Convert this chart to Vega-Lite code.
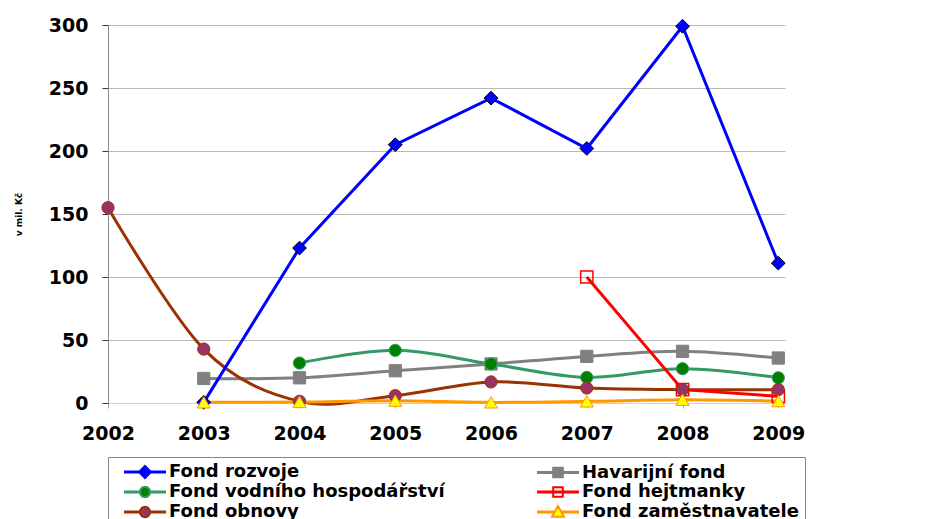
{
  "$schema": "https://vega.github.io/schema/vega-lite/v6.json",
  "width": 677,
  "height": 378,
  "autosize": "none",
  "padding": {"left": 108, "top": 25, "right": 145, "bottom": 116},
  "background": "white",
  "config": {"view": {"stroke": null}, "font": "DejaVu Sans",
    "legend": {"orient": "none", "legendX": 0, "legendY": 432, "columns": 2, "title": null,
      "labelFont": "DejaVu Sans", "labelFontWeight": "bold", "labelFontSize": 18, "labelColor": "#000000",
      "labelLimit": 500, "symbolSize": 256, "symbolStrokeWidth": 2, "symbolOpacity": 1,
      "rowPadding": 0, "columnPadding": 82, "padding": 6, "strokeColor": "#888888", "fillColor": "#ffffff",
      "symbolOffset": 22, "labelOffset": 15, "gridAlign": "each"}},
  "data": {"values": [
    {"year": 2003, "series": "Fond rozvoje", "value": 0.5},
    {"year": 2004, "series": "Fond rozvoje", "value": 123},
    {"year": 2005, "series": "Fond rozvoje", "value": 205},
    {"year": 2006, "series": "Fond rozvoje", "value": 242},
    {"year": 2007, "series": "Fond rozvoje", "value": 202},
    {"year": 2008, "series": "Fond rozvoje", "value": 299},
    {"year": 2009, "series": "Fond rozvoje", "value": 111},
    {"year": 2003, "series": "Havarijní fond", "value": 19.5},
    {"year": 2004, "series": "Havarijní fond", "value": 20},
    {"year": 2005, "series": "Havarijní fond", "value": 25.6},
    {"year": 2006, "series": "Havarijní fond", "value": 31},
    {"year": 2007, "series": "Havarijní fond", "value": 37},
    {"year": 2008, "series": "Havarijní fond", "value": 41},
    {"year": 2009, "series": "Havarijní fond", "value": 35.7},
    {"year": 2004, "series": "Fond vodního hospodářství", "value": 31.7},
    {"year": 2005, "series": "Fond vodního hospodářství", "value": 41.8},
    {"year": 2006, "series": "Fond vodního hospodářství", "value": 31},
    {"year": 2007, "series": "Fond vodního hospodářství", "value": 20.3},
    {"year": 2008, "series": "Fond vodního hospodářství", "value": 27.2},
    {"year": 2009, "series": "Fond vodního hospodářství", "value": 20},
    {"year": 2007, "series": "Fond hejtmanky", "value": 100},
    {"year": 2008, "series": "Fond hejtmanky", "value": 10.6},
    {"year": 2009, "series": "Fond hejtmanky", "value": 5.3},
    {"year": 2002, "series": "Fond obnovy", "value": 155},
    {"year": 2003, "series": "Fond obnovy", "value": 42.8},
    {"year": 2004, "series": "Fond obnovy", "value": 1.3},
    {"year": 2005, "series": "Fond obnovy", "value": 5.8},
    {"year": 2006, "series": "Fond obnovy", "value": 16.7},
    {"year": 2007, "series": "Fond obnovy", "value": 11.9},
    {"year": 2008, "series": "Fond obnovy", "value": 10.6},
    {"year": 2009, "series": "Fond obnovy", "value": 10.6},
    {"year": 2003, "series": "Fond zaměstnavatele", "value": 0.5},
    {"year": 2004, "series": "Fond zaměstnavatele", "value": 0.8},
    {"year": 2005, "series": "Fond zaměstnavatele", "value": 1.8},
    {"year": 2006, "series": "Fond zaměstnavatele", "value": 0.5},
    {"year": 2007, "series": "Fond zaměstnavatele", "value": 1.3},
    {"year": 2008, "series": "Fond zaměstnavatele", "value": 2.6},
    {"year": 2009, "series": "Fond zaměstnavatele", "value": 1.5}
  ]},
  "encoding": {
    "x": {"field": "year", "type": "quantitative",
      "scale": {"domain": [2002, 2009.07], "nice": false, "zero": false},
      "axis": {"title": null, "values": [2002, 2003, 2004, 2005, 2006, 2007, 2008, 2009], "format": "d",
        "grid": false, "domainColor": "#d0d0d0", "tickColor": "#aaaaaa", "tickSize": 5,
        "labelFont": "DejaVu Sans", "labelFontWeight": "bold", "labelFontSize": 19, "labelColor": "#000000",
        "labelPadding": 16, "labelFlush": false}},
    "y": {"field": "value", "type": "quantitative",
      "scale": {"domain": [0, 300], "nice": false},
      "axis": {"title": "v mil. Kč", "values": [0, 50, 100, 150, 200, 250, 300],
        "grid": true, "gridColor": "#b8b8b8", "domainColor": "#888888", "tickColor": "#333333", "tickSize": 6,
        "labelFont": "DejaVu Sans", "labelFontWeight": "bold", "labelFontSize": 19, "labelColor": "#000000",
        "labelPadding": 14, "titleFont": "DejaVu Sans", "titleFontWeight": "bold", "titleFontSize": 9,
        "titleColor": "#000000", "titlePadding": 25}}
  },
  "layer": [
    {
      "transform": [{"filter": {"field": "series", "oneOf": ["Havarijní fond", "Fond vodního hospodářství", "Fond obnovy", "Fond zaměstnavatele"]}}],
      "mark": {"type": "line", "interpolate": "cardinal", "strokeWidth": 3},
      "encoding": {"color": {"field": "series", "type": "nominal",
        "scale": {"domain": ["Fond zaměstnavatele", "Fond obnovy", "Fond hejtmanky", "Fond vodního hospodářství", "Havarijní fond", "Fond rozvoje"],
          "range": ["#ff9900", "#993300", "#ff0000", "#339966", "#808080", "#0000ff"]}, "legend": null}}
    },
    {
      "transform": [{"filter": {"field": "series", "oneOf": ["Fond rozvoje", "Fond hejtmanky"]}}],
      "mark": {"type": "line", "interpolate": "linear", "strokeWidth": 3},
      "encoding": {"color": {"field": "series", "type": "nominal", "legend": null}}
    },
    {
      "transform": [{"filter": {"field": "series", "equal": "Fond rozvoje"}}],
      "mark": {"type": "point", "shape": "diamond", "size": 190, "filled": true, "fill": "#0000ff", "stroke": "#000000", "strokeWidth": 1, "opacity": 1},
      "encoding": {}
    },
    {
      "transform": [{"filter": {"field": "series", "equal": "Havarijní fond"}}],
      "mark": {"type": "point", "shape": "square", "size": 150, "filled": true, "fill": "#808080", "stroke": "#808080", "strokeWidth": 1, "opacity": 1},
      "encoding": {}
    },
    {
      "transform": [{"filter": {"field": "series", "equal": "Fond vodního hospodářství"}}],
      "mark": {"type": "point", "shape": "circle", "size": 150, "filled": true, "fill": "#008000", "stroke": "#339966", "strokeWidth": 1, "opacity": 1},
      "encoding": {}
    },
    {
      "transform": [{"filter": {"field": "series", "equal": "Fond hejtmanky"}}],
      "mark": {"type": "point", "shape": "square", "size": 150, "filled": true, "fill": "#ffffff", "fillOpacity": 0, "stroke": "#ff0000", "strokeWidth": 1.5, "opacity": 1},
      "encoding": {}
    },
    {
      "transform": [{"filter": {"field": "series", "equal": "Fond obnovy"}}],
      "mark": {"type": "point", "shape": "circle", "size": 150, "filled": true, "fill": "#993366", "stroke": "#993300", "strokeWidth": 1, "opacity": 1},
      "encoding": {}
    },
    {
      "transform": [{"filter": {"field": "series", "equal": "Fond zaměstnavatele"}}],
      "mark": {"type": "point", "shape": "triangle-up", "size": 170, "filled": true, "fill": "#ffff00", "stroke": "#ff9900", "strokeWidth": 1, "opacity": 1},
      "encoding": {}
    },
    {
      "transform": [{"filter": "datum.year > 9999"}],
      "mark": {"type": "point", "filled": true},
      "encoding": {
        "shape": {"field": "series", "type": "nominal",
          "scale": {"domain": ["Fond rozvoje", "Fond vodního hospodářství", "Fond obnovy", "Havarijní fond", "Fond hejtmanky", "Fond zaměstnavatele"],
            "range": [
              "M-2.5,-0.07H-0.7V0.07H-2.5Z M0.7,-0.07H2.5V0.07H0.7Z M0,-0.75L0.75,0L0,0.75L-0.75,0Z",
              "M-2.5,-0.07H-0.6V0.07H-2.5Z M0.6,-0.07H2.5V0.07H0.6Z M0.65,0L0.563,0.325L0.325,0.563L0,0.65L-0.325,0.563L-0.563,0.325L-0.65,0L-0.563,-0.325L-0.325,-0.563L0,-0.65L0.325,-0.563L0.563,-0.325Z",
              "M-2.5,-0.07H-0.6V0.07H-2.5Z M0.6,-0.07H2.5V0.07H0.6Z M0.65,0L0.563,0.325L0.325,0.563L0,0.65L-0.325,0.563L-0.563,0.325L-0.65,0L-0.563,-0.325L-0.325,-0.563L0,-0.65L0.325,-0.563L0.563,-0.325Z",
              "M-2.5,-0.07H-0.6V0.07H-2.5Z M0.6,-0.07H2.5V0.07H0.6Z M-0.6,-0.6H0.6V0.6H-0.6Z",
              "M-2.5,-0.07H2.5V0.07H-2.5Z M-0.6,-0.6H0.6V0.6H-0.6Z",
              "M-2.5,-0.07H-0.6V0.07H-2.5Z M0.6,-0.07H2.5V0.07H0.6Z M0,-0.75L0.75,0.6H-0.75Z"
            ]}},
        "fill": {"field": "series", "type": "nominal",
          "scale": {"domain": ["Fond rozvoje", "Fond vodního hospodářství", "Fond obnovy", "Havarijní fond", "Fond hejtmanky", "Fond zaměstnavatele"],
            "range": ["#0000ff", "#008000", "#993366", "#808080", "#ffffff", "#ffff00"]}},
        "stroke": {"field": "series", "type": "nominal",
          "scale": {"domain": ["Fond rozvoje", "Fond vodního hospodářství", "Fond obnovy", "Havarijní fond", "Fond hejtmanky", "Fond zaměstnavatele"],
            "range": ["#0000ff", "#339966", "#993300", "#808080", "#ff0000", "#ff9900"]}}
      }
    }
  ]
}
